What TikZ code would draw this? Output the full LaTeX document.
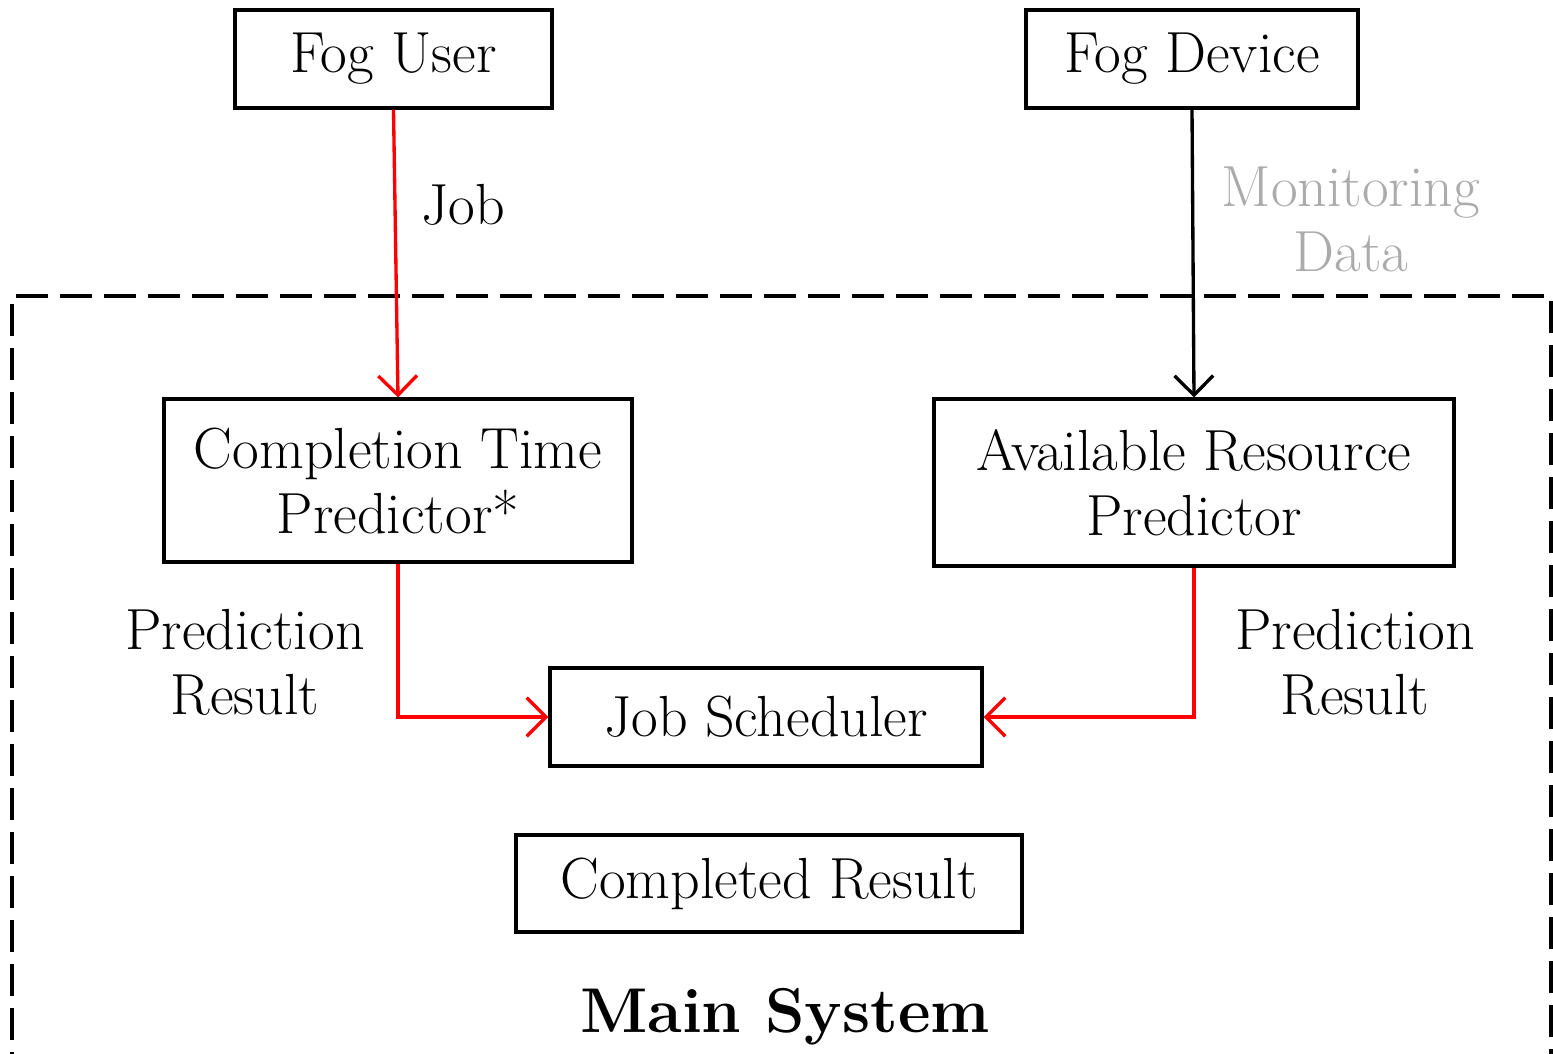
\documentclass[tikz,border=0pt]{standalone}
\usepackage{tikz}
\usetikzlibrary{arrows.meta, positioning}
\tikzstyle{block} = [rectangle, draw=black, line width=0.9pt, align=center, inner sep=0pt, font=\fontsize{16.5}{18.5}\selectfont]
\tikzstyle{label} = [align=center, font=\fontsize{16.5}{18.5}\selectfont]
\tikzstyle{arrow} = [line width=0.95pt, -{Straight Barb[length=5.5pt,width=11pt]}]
\tikzstyle{redarrow} = [arrow, draw=red]

\begin{document}
\begin{tikzpicture}
    \useasboundingbox (0,0) rectangle (15.53,10.54);
    \clip (0,0) rectangle (15.53,10.54);
    % main system frame
    \draw [line width=0.9pt, dash pattern=on 0.32cm off 0.12cm] (0.12,-0.3) -- (0.12,7.58) -- (15.51,7.58) -- (15.51,-0.3);
    \node (user) [block, minimum width=3.17cm, minimum height=0.98cm] at (3.935,9.95) {Fog User};
    \node (device) [block, minimum width=3.32cm, minimum height=0.98cm] at (11.92,9.95) {Fog Device};
    \node (ctp) [block, minimum width=4.68cm, minimum height=1.63cm] at (3.98,5.735) {Completion Time\\Predictor*};
    \node (arp) [block, minimum width=5.20cm, minimum height=1.67cm] at (11.94,5.715) {Available Resource\\Predictor};
    \node (scheduler) [block, minimum width=4.32cm, minimum height=0.98cm] at (7.66,3.37) {Job Scheduler};
    \node (result) [block, minimum width=5.06cm, minimum height=0.97cm] at (7.69,1.705) {Completed Result};
    \node (main) [font=\fontsize{18}{21}\selectfont\bfseries] at (7.85,0.37) {Main System};
    \draw [redarrow] (user.south) -- (ctp.north);
    \draw [arrow] (device.south) -- (arp.north);
    \draw [redarrow] (ctp.south) |- (scheduler.west);
    \draw [redarrow] (arp.south) |- (scheduler.east);
    \node (job) [label] at (4.63,8.49) {Job};
    \node (monitor) [label, text=black!33] at (13.51,8.35) {Monitoring\\Data};
    \node (leftres) [label] at (2.45,3.92) {Prediction\\Result};
    \node (rightres) [label] at (13.55,3.92) {Prediction\\Result};
\end{tikzpicture}
\end{document}
